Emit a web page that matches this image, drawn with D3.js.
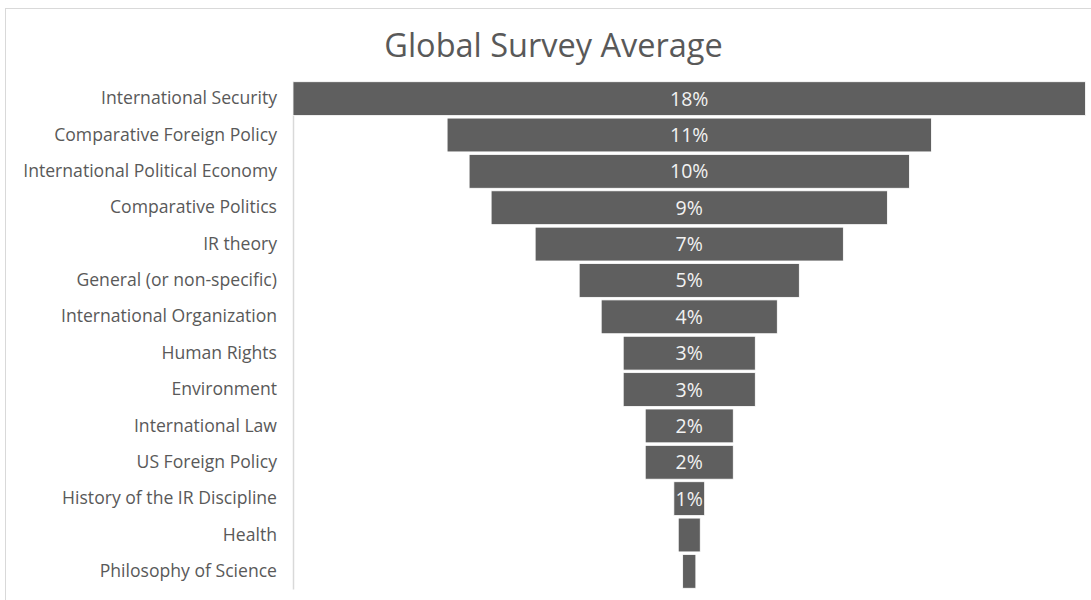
<!DOCTYPE html>
<html>
<head>
<meta charset="utf-8">
<script src="https://cdn.jsdelivr.net/npm/d3@7"></script>
<style>
  html, body { margin: 0; padding: 0; background: #fff; }
  svg { display: block; }
</style>
</head>
<body>
<svg id="chart" width="1091" height="600"></svg>
<script>
// Share of respondents by primary research area
const categories = [
  "International Security",
  "Comparative Foreign Policy",
  "International Political Economy",
  "Comparative Politics",
  "IR theory",
  "General (or non-specific)",
  "International Organization",
  "Human Rights",
  "Environment",
  "International Law",
  "US Foreign Policy",
  "History of the IR Discipline",
  "Health",
  "Philosophy of Science"
];
const shares = [0.18, 0.11, 0.10, 0.09, 0.07, 0.05, 0.04, 0.03, 0.03, 0.02, 0.02, 0.007, 0.005, 0.003];
const chartTitle = "Global Survey Average";

const data = categories.map((c, i) => ({ category: c, value: shares[i] }));

const svg = d3.select("#chart");
const font = "'Open Sans', 'Noto Sans', sans-serif";

// Outer chart frame
svg.append("rect")
  .attr("x", 5.5).attr("y", 8.5)
  .attr("width", 1100).attr("height", 600)
  .attr("fill", "#fff")
  .attr("stroke", "#d9d9d9")
  .attr("stroke-width", 1);

const plot = { left: 293, right: 1085.5, top: 81, bottom: 589 };
const plotWidth = plot.right - plot.left;
const center = plot.left + plotWidth / 2;

const y = d3.scaleBand()
  .domain(categories)
  .range([plot.top, plot.bottom])
  .paddingInner(0.07)
  .paddingOuter(0.02);

const w = d3.scaleLinear()
  .domain([0, d3.max(shares)])
  .range([0, plotWidth]);

const fmt = d3.format(".0%");

// Title
svg.append("text")
  .attr("x", 553.5).attr("y", 57)
  .attr("text-anchor", "middle")
  .attr("font-family", font)
  .attr("font-size", 32.5)
  .attr("fill", "#595959")
  .text(chartTitle);

// Category axis
const axis = svg.append("g")
  .attr("transform", `translate(${plot.left},0)`)
  .call(d3.axisLeft(y).tickSize(0).tickPadding(16));
axis.select(".domain")
  .attr("stroke", "#d9d9d9")
  .attr("stroke-width", 1.5);
axis.selectAll(".tick text")
  .attr("font-family", font)
  .attr("font-size", 17.6)
  .attr("fill", "#595959");

// Funnel bars, centred on the plot
const bars = svg.append("g");
bars.selectAll("rect")
  .data(data)
  .join("rect")
  .attr("x", d => center - w(d.value) / 2)
  .attr("y", d => y(d.category))
  .attr("width", d => w(d.value))
  .attr("height", y.bandwidth())
  .attr("fill", "#5f5f5f")
  .attr("stroke", "#ffffff")
  .attr("stroke-width", 0.8);

// Value labels where they fit inside the bar
const labels = svg.append("g");
labels.selectAll("text")
  .data(data)
  .join("text")
  .attr("x", center)
  .attr("y", d => y(d.category) + y.bandwidth() / 2)
  .attr("dy", "0.36em")
  .attr("text-anchor", "middle")
  .attr("font-family", font)
  .attr("font-size", 19.5)
  .attr("fill", "#f2f2f2")
  .text(d => fmt(d.value))
  .each(function (d) {
    if (this.getComputedTextLength() > w(d.value) + 2) d3.select(this).remove();
  });
</script>
</body>
</html>
